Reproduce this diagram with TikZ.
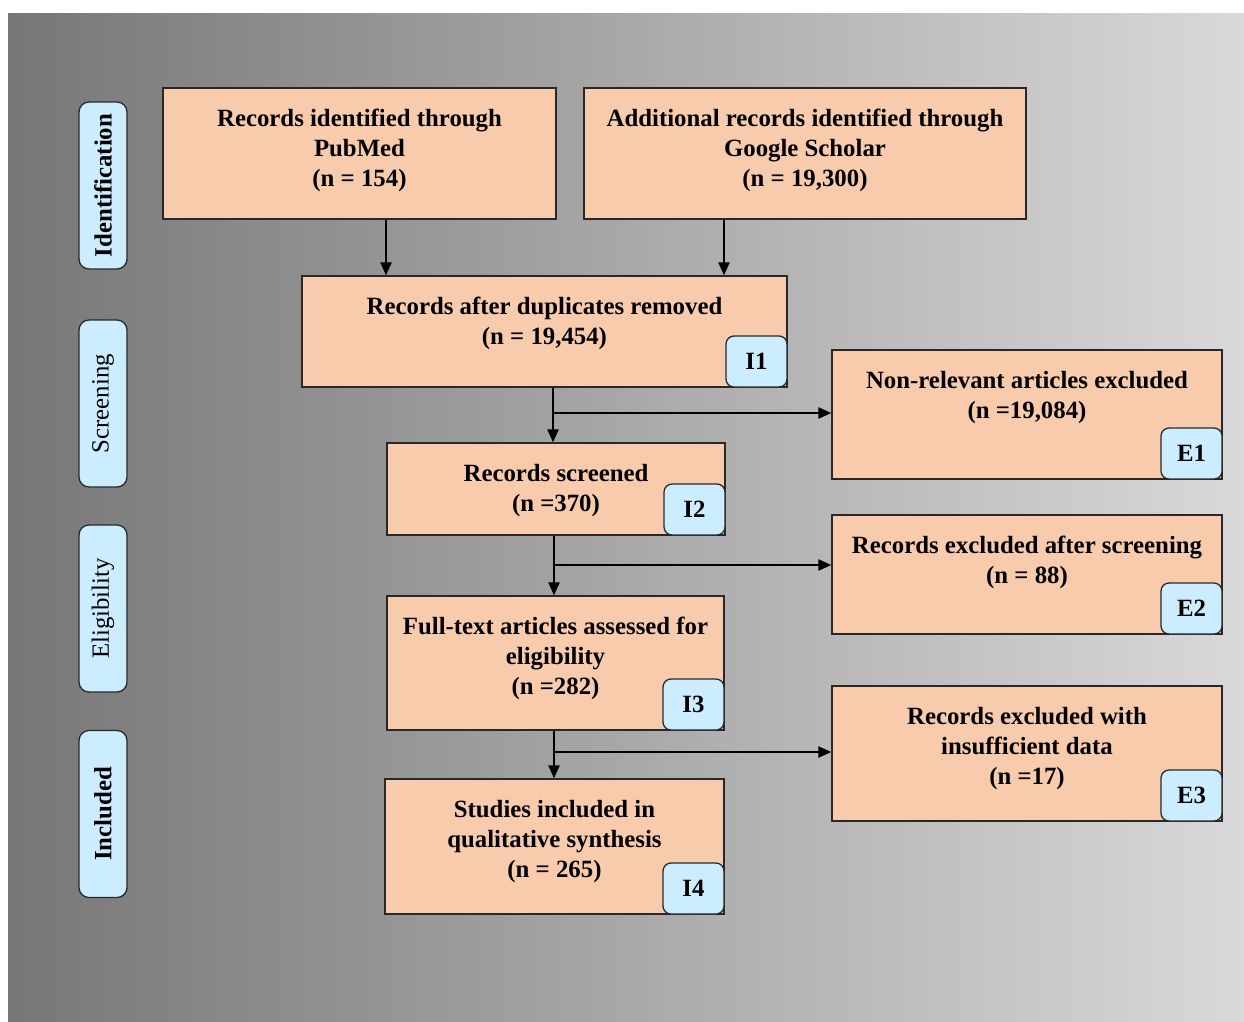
\documentclass[tikz,border=0pt]{standalone}
\usepackage{fontspec}
\setmainfont{Liberation Serif}
\usetikzlibrary{arrows.meta}
\definecolor{peach}{RGB}{248,203,173}
\definecolor{tagblue}{RGB}{204,236,255}
\definecolor{edge}{RGB}{40,40,40}
\definecolor{bgleft}{RGB}{119,119,119}
\definecolor{bgmid}{RGB}{174,174,174}
\definecolor{bgright}{RGB}{217,217,217}

\begin{document}
\begin{tikzpicture}[x=1pt,y=-1pt,
  box/.style={draw=edge, line width=1.3pt, fill=peach, inner sep=0pt, rectangle},
  % multi-line text is anchored at the baseline of its last line
  txt/.style={font=\fontsize{24.8}{30}\selectfont\bfseries, align=center, inner sep=0pt, anchor=base},
  two/.style={yshift=-69pt},
  three/.style={yshift=-99pt},
  tag/.style={draw=edge, line width=1.3pt, fill=tagblue, rounded corners=8pt,
    minimum width=61pt, minimum height=51pt, inner sep=0pt, anchor=south east,
    font=\fontsize{24.8}{30}\selectfont\bfseries},
  phase/.style={draw=edge, line width=1.3pt, fill=tagblue, rounded corners=10pt,
    minimum width=167pt, minimum height=48pt, inner sep=0pt, rotate=90,
    font=\fontsize{24.8}{30}\selectfont},
  arr/.style={line width=2.2pt, -{Triangle[length=13pt,width=11pt]}}
]
% page and shaded backdrop
\useasboundingbox (0,0) rectangle (1244,1021);
\fill[white] (0,0) rectangle (1244,1021);
\shade[left color=bgleft, middle color=bgmid, right color=bgright] (8,13) rectangle (1244,1021);

% phase labels on the left
\node[phase, font=\fontsize{24.8}{30}\selectfont\bfseries] (ph1) at (103,185.5) {Identification};
\node[phase] (ph2) at (103,403.5) {Screening};
\node[phase] (ph3) at (103,608.5) {Eligibility};
\node[phase, font=\fontsize{24.8}{30}\selectfont\bfseries] (ph4) at (103,814) {Included};

% flow boxes
\node[box, minimum width=393pt, minimum height=131pt] (pub) at (359.5,153.5) {};
\node[txt] (pubt) at ([three]pub.north) {Records identified through\\PubMed\\(n = 154)};

\node[box, minimum width=442pt, minimum height=131pt] (gs) at (805,153.5) {};
\node[txt] (gst) at ([three]gs.north) {Additional records identified through\\Google Scholar\\(n = 19,300)};

\node[box, minimum width=485pt, minimum height=111pt] (dup) at (544.5,331.5) {};
\node[txt] (dupt) at ([two]dup.north) {Records after duplicates removed\\(n = 19,454)};
\node[tag] (i1) at (dup.south east) {I1};

\node[box, minimum width=390pt, minimum height=129pt] (nonrel) at (1027,414.5) {};
\node[txt] (nonrelt) at ([two]nonrel.north) {Non-relevant articles excluded\\(n =19,084)};
\node[tag] (e1) at (nonrel.south east) {E1};

\node[box, minimum width=338pt, minimum height=92pt] (scr) at (556,489) {};
\node[txt] (scrt) at ([two]scr.north) {Records screened\\(n =370)};
\node[tag] (i2) at (scr.south east) {I2};

\node[box, minimum width=390pt, minimum height=119pt] (exscr) at (1027,574.5) {};
\node[txt] (exscrt) at ([two]exscr.north) {Records excluded after screening\\(n = 88)};
\node[tag] (e2) at (exscr.south east) {E2};

\node[box, minimum width=337pt, minimum height=134pt] (full) at (555.5,663) {};
\node[txt] (fullt) at ([three]full.north) {Full-text articles assessed for\\eligibility\\(n =282)};
\node[tag] (i3) at (full.south east) {I3};

\node[box, minimum width=390pt, minimum height=135pt] (insuff) at (1027,753.5) {};
\node[txt] (insufft) at ([three]insuff.north) {Records excluded with\\insufficient data\\(n =17)};
\node[tag] (e3) at (insuff.south east) {E3};

\node[box, minimum width=339pt, minimum height=135pt] (incl) at (554.5,846.5) {};
\node[txt] (inclt) at ([three]incl.north) {Studies included in\\qualitative synthesis\\(n = 265)};
\node[tag] (i4) at (incl.south east) {I4};

% connectors
\coordinate (pa) at ([xshift=26.5pt]pub.south);
\coordinate (gb) at ([xshift=-81pt]gs.south);
\draw[arr] (pa) -- (pa |- dup.north);
\draw[arr] (gb) -- (gb |- dup.north);

\coordinate (j1) at (553,413);
\draw[arr] (j1 |- dup.south) -- (j1 |- scr.north);
\draw[arr] (j1) -- (j1 -| nonrel.west);

\coordinate (j2) at (554,565);
\draw[arr] (j2 |- scr.south) -- (j2 |- full.north);
\draw[arr] (j2) -- (j2 -| exscr.west);

\coordinate (j3) at (554,752);
\draw[arr] (j3 |- full.south) -- (j3 |- incl.north);
\draw[arr] (j3) -- (j3 -| insuff.west);
\end{tikzpicture}
\end{document}
